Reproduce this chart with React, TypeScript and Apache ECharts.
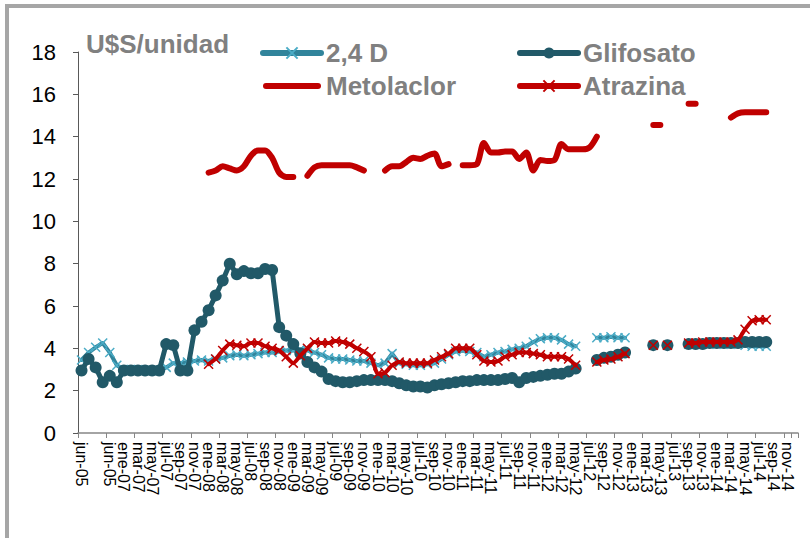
import React, { useEffect, useRef } from "react";
import * as echarts from "echarts";

const categories: string[] = [
  "jun-05", "jun-05", "jun-05", "jun-05", "jun-05", "jun-05",
  "ene-07", "feb-07", "mar-07", "abr-07", "may-07", "jun-07", "jul-07", "ago-07", "sep-07", "oct-07", "nov-07", "dic-07",
  "ene-08", "feb-08", "mar-08", "abr-08", "may-08", "jun-08", "jul-08", "ago-08", "sep-08", "oct-08", "nov-08", "dic-08",
  "ene-09", "feb-09", "mar-09", "abr-09", "may-09", "jun-09", "jul-09", "ago-09", "sep-09", "oct-09", "nov-09", "dic-09",
  "ene-10", "feb-10", "mar-10", "abr-10", "may-10", "jun-10", "jul-10", "ago-10", "sep-10", "oct-10", "nov-10", "dic-10",
  "ene-11", "feb-11", "mar-11", "abr-11", "may-11", "jun-11", "jul-11", "ago-11", "sep-11", "oct-11", "nov-11", "dic-11",
  "ene-12", "feb-12", "mar-12", "abr-12", "may-12", "jun-12", "jul-12", "ago-12", "sep-12", "oct-12", "nov-12", "dic-12",
  "ene-13", "feb-13", "mar-13", "abr-13", "may-13", "jun-13", "jul-13", "ago-13", "sep-13", "oct-13", "nov-13", "dic-13",
  "ene-14", "feb-14", "mar-14", "abr-14", "may-14", "jun-14", "jul-14", "ago-14", "sep-14", "oct-14", "nov-14", "dic-14",
];

const yTicks = { min: 0, max: 18, interval: 2 };

// 2,4 D
const d24: (number | null)[] = [
  3.45, 3.8, 4.05, 4.25, 3.8, 3.2,
  3.0, 3.0, 3.0, 2.95, 2.95, 2.95, 3.1, 3.3, 3.3, 3.35, 3.4, 3.45,
  3.4, 3.5, 3.55, 3.65, 3.7, 3.65, 3.7, 3.75, 3.8, 3.8, 3.85, 3.9,
  3.9, 3.95, 3.9, 3.8, 3.7, 3.55, 3.5, 3.5, 3.45, 3.4, 3.4, 3.3,
  3.2, 3.3, 3.75, 3.3, 3.25, 3.2, 3.2, 3.25, 3.3, 3.5, 3.7, 3.85,
  3.9, 3.85, 3.8, 3.6, 3.7, 3.8, 3.85, 3.95, 4.0, 4.1, 4.3, 4.45,
  4.5, 4.5, 4.4, 4.2, 4.1, null, null, 4.5, 4.5, 4.55, 4.5, 4.5,
  null, null, null, null, null, null, null, null, 4.2, 4.2, 4.2, 4.2,
  4.2, 4.2, 4.2, 4.2, 4.15, 4.1, 4.1, 4.1, null, null, null, null,
];

// Glifosato
const glifosato: (number | null)[] = [
  2.95, 3.5, 3.1, 2.4, 2.7, 2.4,
  2.95, 2.95, 2.95, 2.95, 2.95, 2.95, 4.2, 4.15, 2.95, 2.95, 4.85, 5.25,
  5.8, 6.5, 7.2, 8.0, 7.5, 7.65, 7.55, 7.55, 7.75, 7.7, 5.0, 4.6,
  4.2, 3.75, 3.35, 3.1, 2.9, 2.55, 2.45, 2.4, 2.4, 2.45, 2.5, 2.5,
  2.5, 2.5, 2.45, 2.35, 2.25, 2.2, 2.2, 2.15, 2.25, 2.3, 2.35, 2.4,
  2.45, 2.45, 2.5, 2.5, 2.5, 2.5, 2.55, 2.6, 2.4, 2.6, 2.65, 2.7,
  2.75, 2.8, 2.8, 2.9, 3.05, null, null, 3.45, 3.55, 3.6, 3.7, 3.8,
  null, null, null, 4.15, null, 4.15, null, null, 4.2, 4.2, 4.2, 4.25,
  4.25, 4.25, 4.25, 4.25, 4.3, 4.3, 4.3, 4.3, null, null, null, null,
];

// Metolaclor
const metolaclor: (number | null)[] = [
  null, null, null, null, null, null,
  null, null, null, null, null, null, null, null, null, null, null, null,
  12.3, 12.4, 12.6, 12.5, 12.4, 12.6, 13.1, 13.35, 13.35, 13.0, 12.3, 12.1,
  12.1, null, 12.15, 12.55, 12.65, 12.65, 12.65, 12.65, 12.65, 12.55, 12.4, null,
  null, 12.4, 12.6, 12.6, 12.8, 13.0, 12.95, 13.1, 13.2, 12.6, 12.7, null,
  12.65, 12.65, 12.7, 13.7, 13.25, 13.25, 13.3, 13.3, 12.95, 13.25, 12.4, 12.9,
  12.85, 12.9, 13.65, 13.4, 13.4, 13.4, 13.5, 14.0, null, null, null, null,
  null, null, null, 14.55, 14.55, null, null, null, 15.55, 15.55, null, null,
  null, null, 14.9, 15.1, 15.15, 15.15, 15.15, 15.15, null, null, null, null,
];

// Atrazina
const atrazina: (number | null)[] = [
  null, null, null, null, null, null,
  null, null, null, null, null, null, null, null, null, null, null, null,
  3.25, 3.5, 3.9, 4.2, 4.15, 4.1, 4.25, 4.25, 4.1, 4.0, 3.9, 3.6,
  3.3, 3.65, 4.0, 4.3, 4.25, 4.25, 4.35, 4.3, 4.2, 4.0, 3.85, 3.6,
  2.8, 2.85, 3.2, 3.35, 3.3, 3.3, 3.3, 3.3, 3.45, 3.6, 3.75, 4.0,
  4.0, 4.0, 3.7, 3.4, 3.35, 3.4, 3.6, 3.7, 3.8, 3.8, 3.75, 3.7,
  3.6, 3.6, 3.6, 3.5, 3.2, null, null, 3.35, 3.45, 3.5, 3.6, 3.75,
  null, null, null, 4.15, null, 4.15, null, null, 4.25, 4.25, 4.3, 4.3,
  4.3, 4.3, 4.3, 4.4, 4.9, 5.3, 5.35, 5.35, null, null, null, null,
];

const FONT = "'Liberation Sans', Arial, sans-serif";
const GRAY = "#808080";
const X_MARK = "path://M0,0L10,10M10,0L0,10";
const LINE_ICON = "path://M3,0H55A3,3 0 0 1 55,6H3A3,3 0 0 1 3,0Z";

export default function App() {
  const ref = useRef<HTMLDivElement>(null);

  useEffect(() => {
    document.body.style.margin = "0";
    const chart = echarts.init(ref.current!, null, { renderer: "svg" });

    const legendText = { color: GRAY, fontSize: 26, fontWeight: "bold", fontFamily: FONT, lineHeight: 26 };
    const legendCommon = {
      orient: "vertical",
      top: 40,
      padding: 0,
      itemWidth: 58,
      itemHeight: 14,
      itemGap: 7,
      selectedMode: false,
      textStyle: legendText,
      lineStyle: { width: 6, cap: "round" },
    };

    const lastIndex = categories.length - 1;

    chart.setOption({
      animation: false,
      grid: { left: 78, right: 12, top: 52, bottom: 105 },
      legend: [
        { ...legendCommon, left: 260, data: ["2,4 D", { name: "Metolaclor", icon: LINE_ICON }] },
        { ...legendCommon, left: 517, data: ["Glifosato", "Atrazina"] },
      ],
      graphic: [
        {
          type: "rect",
          silent: true,
          shape: { x: 7, y: 6, width: 900, height: 900 },
          style: { fill: "none", stroke: "#A6A6A6", lineWidth: 4 },
        },
        {
          type: "text",
          left: 86,
          top: 31,
          style: { text: "U$S/unidad", fill: GRAY, fontSize: 26, fontWeight: "bold", fontFamily: FONT },
        },
      ],
      xAxis: {
        type: "category",
        data: categories,
        boundaryGap: true,
        axisLine: { show: true, lineStyle: { color: "#868686", width: 1.5 } },
        axisTick: { show: true, interval: 3, length: 5, lineStyle: { color: "#868686" } },
        axisLabel: {
          interval: 1,
          rotate: -90,
          margin: 9,
          fontSize: 16,
          color: "#000",
          fontFamily: FONT,
          showMinLabel: true,
          showMaxLabel: true,
          formatter: (v: string, i: number) => (i === lastIndex ? "" : v),
        },
        splitLine: { show: false },
      },
      yAxis: {
        type: "value",
        min: yTicks.min,
        max: yTicks.max,
        interval: yTicks.interval,
        axisLine: { show: true, lineStyle: { color: "#595959", width: 1 } },
        axisTick: { show: true, length: 5, lineStyle: { color: "#595959" } },
        axisLabel: { fontSize: 22, color: "#000", fontFamily: FONT, margin: 22 },
        splitLine: { show: false },
      },
      series: [
        {
          name: "2,4 D",
          type: "line",
          data: d24,
          connectNulls: false,
          symbol: X_MARK,
          symbolSize: 9,
          showSymbol: true,
          showAllSymbol: true,
          lineStyle: { color: "#31849B", width: 4, cap: "round", join: "round" },
          itemStyle: { color: "#4BACC6", borderColor: "#4BACC6", borderWidth: 1.5 },
          emphasis: { disabled: true },
          z: 2,
        },
        {
          name: "Glifosato",
          type: "line",
          data: glifosato,
          connectNulls: false,
          symbol: "circle",
          symbolSize: 12,
          showSymbol: true,
          showAllSymbol: true,
          lineStyle: { color: "#215968", width: 5, cap: "round", join: "round" },
          itemStyle: { color: "#215968", borderWidth: 0 },
          emphasis: { disabled: true },
          z: 3,
        },
        {
          name: "Metolaclor",
          type: "line",
          data: metolaclor,
          connectNulls: false,
          symbol: "none",
          smooth: 0.3,
          lineStyle: { color: "#C00000", width: 6, cap: "round", join: "round" },
          itemStyle: { color: "#C00000" },
          emphasis: { disabled: true },
          z: 4,
        },
        {
          name: "Atrazina",
          type: "line",
          data: atrazina,
          connectNulls: false,
          symbol: X_MARK,
          symbolSize: 9,
          showSymbol: true,
          showAllSymbol: true,
          smooth: 0.2,
          lineStyle: { color: "#C00000", width: 4, cap: "round", join: "round" },
          itemStyle: { color: "#C00000", borderColor: "#C00000", borderWidth: 1.5 },
          emphasis: { disabled: true },
          z: 5,
        },
      ],
    });

    return () => chart.dispose();
  }, []);

  return (
    <div
      ref={ref}
      style={{ position: "absolute", left: 0, top: 0, width: 810, height: 538, background: "#fff" }}
    />
  );
}
